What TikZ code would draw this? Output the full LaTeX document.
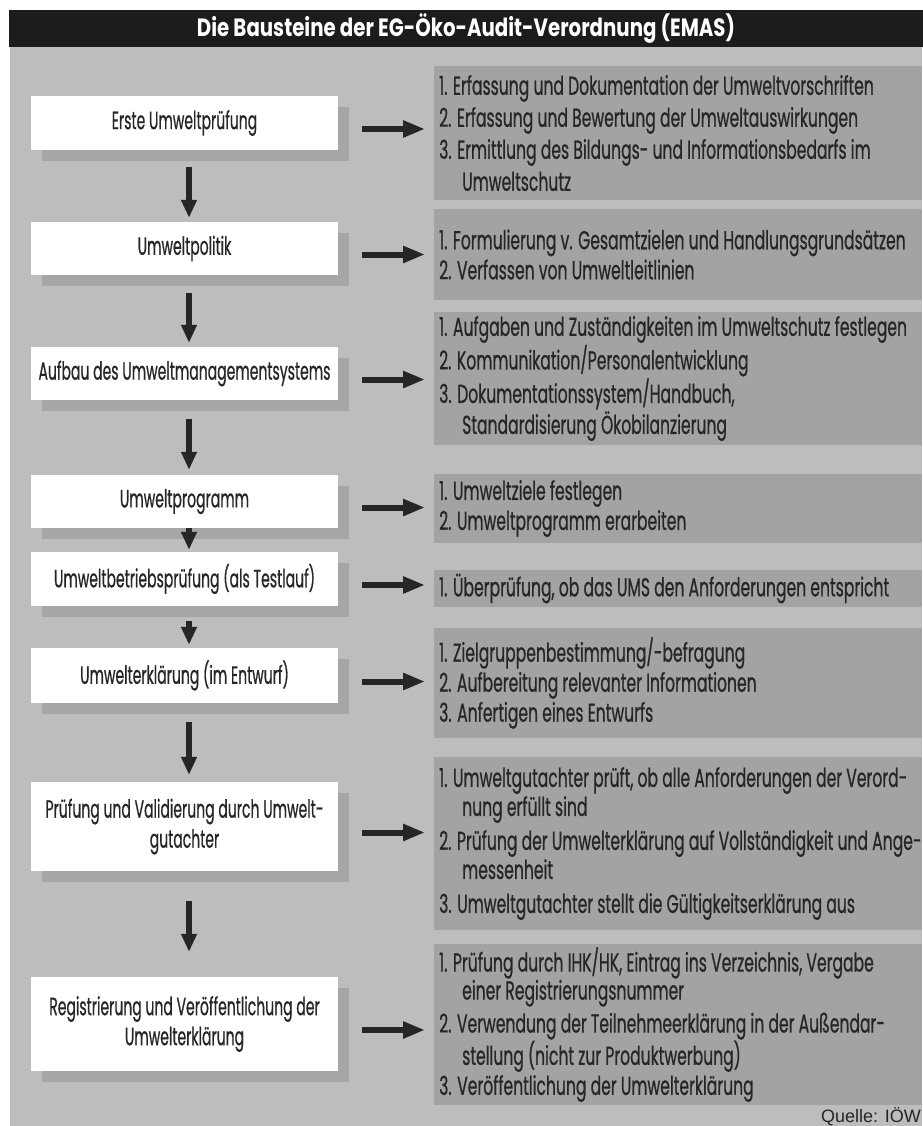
\documentclass[tikz,border=0pt]{standalone}
\usepackage{fontspec}
\setmainfont{Poppins}[FakeStretch=0.6, FakeBold=0.6]
\newfontfamily\stagefont{Poppins}[FakeStretch=0.56, FakeBold=0.6]
\newfontfamily\headfont{Poppins}[FakeStretch=0.79]
\newfontfamily\sourcefont{Liberation Sans}
\usepackage{xcolor}
\usepackage{tikz}
\usetikzlibrary{shapes, arrows.meta, positioning, calc, shadows}

\definecolor{bggray}{HTML}{BDBDBD}
\definecolor{boxgray}{HTML}{A3A3A3}
\definecolor{shadowgray}{HTML}{A6A6A6}
\definecolor{inkgray}{HTML}{262626}
\definecolor{headblack}{HTML}{1C1C1C}

\newcommand{\wrapindent}{\hspace*{23pt}}

\begin{document}
\begin{tikzpicture}[x=1pt, y=-1pt,
    heading/.style={rectangle, fill=headblack, text=white, minimum width=915pt, minimum height=37pt, inner sep=0pt, font=\headfont\bfseries\fontsize{25}{28}\selectfont},
    stage/.style={rectangle, fill=white, minimum width=307pt, inner sep=0pt, align=center, text=inkgray, font=\stagefont\fontsize{25}{30}\selectfont, drop shadow={shadow xshift=11pt, shadow yshift=-11pt, opacity=1, fill=shadowgray}},
    detail/.style={rectangle, fill=boxgray, minimum width=488pt, anchor=west, inner sep=0pt},
    items/.style={anchor=west, align=left, inner sep=0pt, text=inkgray, font=\fontsize{26}{30}\selectfont},
    flow/.style={-{Triangle[length=22pt, width=16pt]}, line width=6pt, draw=inkgray},
    down/.style={-{Triangle[length=18pt, width=15pt]}, line width=6pt, draw=inkgray},
    source/.style={anchor=base east, inner sep=0pt, text=inkgray, font=\sourcefont\fontsize{18}{20}\selectfont}
  ]

    \useasboundingbox (0,0) rectangle (922,1126);
    \fill[bggray] (10,47) rectangle (922,1126);

    % Title
    \node[heading] (title) at (466,28.5) {Die Bausteine der EG-Öko-Audit-Verordnung (EMAS)};

    % Stages
    \node[stage, minimum height=54pt] (erste) at (184.5,123) {Erste Umweltprüfung};
    \node[stage, minimum height=53pt] (politik) at (184.5,248.5) {Umweltpolitik};
    \node[stage, minimum height=53pt] (aufbau) at (184.5,373.5) {Aufbau des Umweltmanagementsystems};
    \node[stage, minimum height=53pt] (programm) at (184.5,501.5) {Umweltprogramm};
    \node[stage, minimum height=54pt] (betrieb) at (184.5,579) {Umweltbetriebsprüfung (als Testlauf)};
    \node[stage, minimum height=55pt] (entwurf) at (184.5,675.5) {Umwelterklärung (im Entwurf)};
    \node[stage, minimum height=89pt] (validierung) at (184.5,826.5) {Prüfung und Validierung durch Umwelt-\\gutachter};
    \node[stage, minimum height=94pt] (registrierung) at (184.5,1024) {Registrierung und Veröffentlichung der\\Umwelterklärung};

    % Details
    \node[detail, minimum height=134pt] (d1) at (434,133) {};
    \node[items] (t1) at ([xshift=5pt]d1.west) {1. Erfassung und Dokumentation der Umweltvorschriften\\[2pt]
      2. Erfassung und Bewertung der Umweltauswirkungen\\[2pt]
      3. Ermittlung des Bildungs- und Informationsbedarfs im\\[2pt]
      \wrapindent Umweltschutz};
    \node[detail, minimum height=91pt] (d2) at (434,254.5) {};
    \node[items] (t2) at ([xshift=5pt]d2.west) {1. Formulierung v. Gesamtzielen und Handlungsgrundsätzen\\
      2. Verfassen von Umweltleitlinien};
    \node[detail, minimum height=133pt] (d3) at (434,378.5) {};
    \node[items] (t3) at ([xshift=5pt]d3.west) {1. Aufgaben und Zuständigkeiten im Umweltschutz festlegen\\[1pt]
      2. Kommunikation/Personalentwicklung\\[1pt]
      3. Dokumentationssystem/Handbuch,\\[1pt]
      \wrapindent Standardisierung Ökobilanzierung};
    \node[detail, minimum height=69pt] (d4) at (434,508.5) {};
    \node[items] (t4) at ([xshift=5pt]d4.west) {1. Umweltziele festlegen\\
      2. Umweltprogramm erarbeiten};
    \node[detail, minimum height=37pt] (d5) at (434,588.5) {};
    \node[items] (t5) at ([xshift=5pt]d5.west) {1. Überprüfung, ob das UMS den Anforderungen entspricht};
    \node[detail, minimum height=110pt] (d6) at (434,683) {};
    \node[items] (t6) at ([xshift=5pt]d6.west) {1. Zielgruppenbestimmung/-befragung\\
      2. Aufbereitung relevanter Informationen\\
      3. Anfertigen eines Entwurfs};
    \node[detail, minimum height=173pt] (d7) at (434,843.5) {};
    \node[items] (t7) at ([xshift=5pt]d7.west) {1. Umweltgutachter prüft, ob alle Anforderungen der Verord-\\[-1pt]
      \wrapindent nung erfüllt sind\\[4pt]
      2. Prüfung der Umwelterklärung auf Vollständigkeit und Ange-\\[-1pt]
      \wrapindent messenheit\\[4pt]
      3. Umweltgutachter stellt die Gültigkeitserklärung aus};
    \node[detail, minimum height=161pt] (d8) at (434,1024.5) {};
    \node[items] (t8) at ([xshift=5pt]d8.west) {1. Prüfung durch IHK/HK, Eintrag ins Verzeichnis, Vergabe\\[-2pt]
      \wrapindent einer Registrierungsnummer\\[3pt]
      2. Verwendung der Teilnehmeerklärung in der Außendar-\\
      \wrapindent stellung (nicht zur Produktwerbung)\\
      3. Veröffentlichung der Umwelterklärung};

    \node[source] (quelle) at (921,1122) {Quelle: IÖW};

    % Flows down
    \draw[down, shorten <=17pt, shorten >=4pt] ([xshift=4.5pt]erste.south) -- ([xshift=4.5pt]politik.north);
    \draw[down, shorten <=18pt, shorten >=4pt] ([xshift=4.5pt]politik.south) -- ([xshift=4.5pt]aufbau.north);
    \draw[down, shorten <=19pt, shorten >=5pt] ([xshift=4.5pt]aufbau.south) -- ([xshift=4.5pt]programm.north);
    \draw[down, shorten <=0pt, shorten >=2pt] ([xshift=4.5pt]programm.south) -- ([xshift=4.5pt]betrieb.north);
    \draw[down, shorten <=15pt, shorten >=3pt] ([xshift=4.5pt]betrieb.south) -- ([xshift=4.5pt]entwurf.north);
    \draw[down, shorten <=19pt, shorten >=7pt] ([xshift=4.5pt]entwurf.south) -- ([xshift=4.5pt]validierung.north);
    \draw[down, shorten <=30pt, shorten >=25pt] ([xshift=4.5pt]validierung.south) -- ([xshift=4.5pt]registrierung.north);

    % Flows right
    \draw[flow, shorten <=24pt, shorten >=9pt] ([yshift=-6pt]erste.east) -- ([yshift=-6pt]erste.east -| d1.west);
    \draw[flow, shorten <=24pt, shorten >=9pt] ([yshift=-6pt]politik.east) -- ([yshift=-6pt]politik.east -| d2.west);
    \draw[flow, shorten <=24pt, shorten >=9pt] ([yshift=-6pt]aufbau.east) -- ([yshift=-6pt]aufbau.east -| d3.west);
    \draw[flow, shorten <=24pt, shorten >=9pt] ([yshift=-6pt]programm.east) -- ([yshift=-6pt]programm.east -| d4.west);
    \draw[flow, shorten <=24pt, shorten >=9pt] ([yshift=-6pt]betrieb.east) -- ([yshift=-6pt]betrieb.east -| d5.west);
    \draw[flow, shorten <=24pt, shorten >=9pt] ([yshift=-6pt]entwurf.east) -- ([yshift=-6pt]entwurf.east -| d6.west);
    \draw[flow, shorten <=24pt, shorten >=9pt] ([yshift=-6pt]validierung.east) -- ([yshift=-6pt]validierung.east -| d7.west);
    \draw[flow, shorten <=24pt, shorten >=9pt] ([yshift=-6pt]registrierung.east) -- ([yshift=-6pt]registrierung.east -| d8.west);

\end{tikzpicture}
\end{document}
